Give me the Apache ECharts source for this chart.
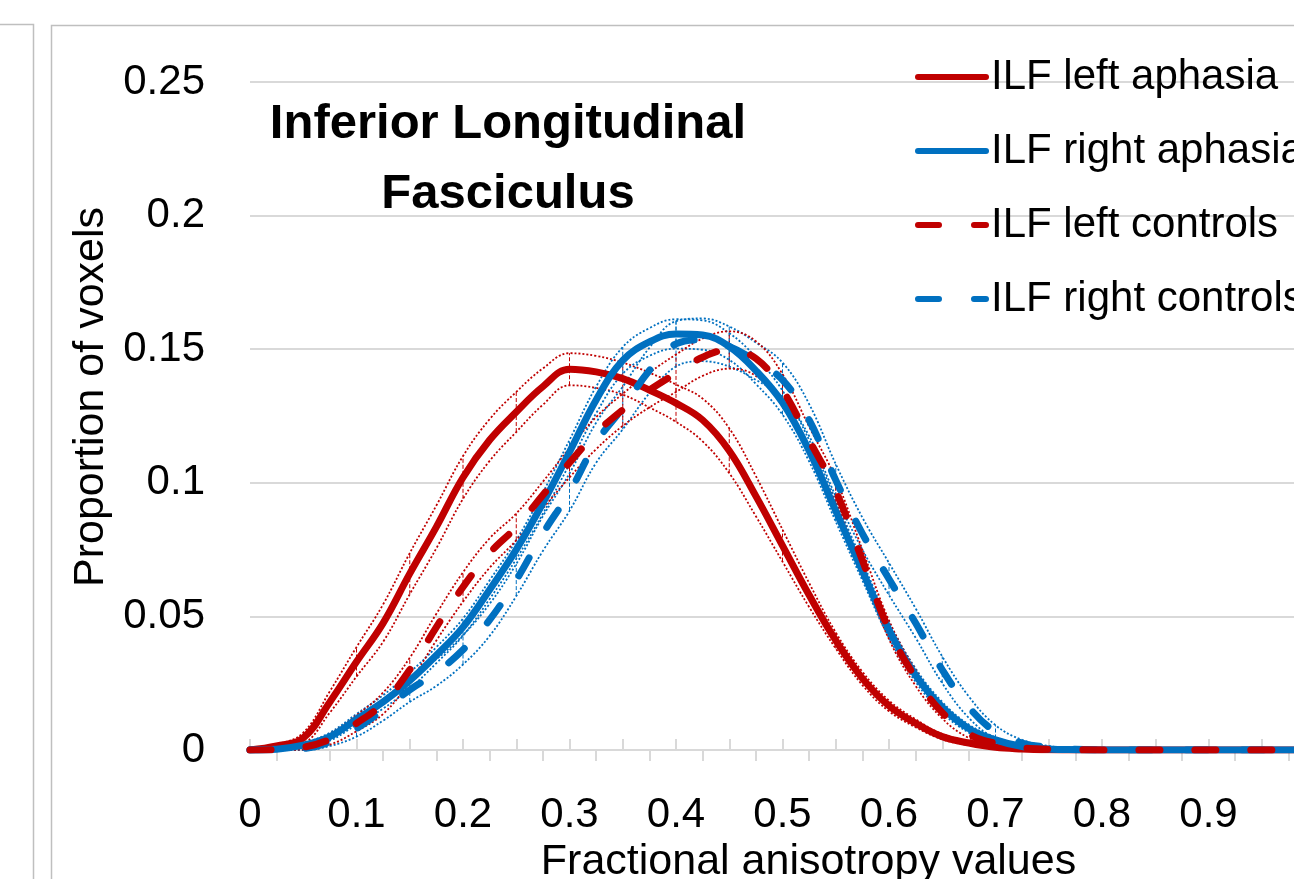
<!DOCTYPE html>
<html>
<head>
<meta charset="utf-8">
<script src="https://cdn.jsdelivr.net/npm/echarts@6/dist/echarts.min.js"></script>
<style>
html,body{margin:0;padding:0;background:#fff;}
#chart{width:1294px;height:879px;}
</style>
</head>
<body>
<div id="chart"></div>
<script>
// Fractional anisotropy values (x)
const faValues = [0,0.025,0.05,0.075,0.1,0.125,0.15,0.175,0.2,0.225,0.25,0.275,0.3,0.325,0.35,0.375,0.4,0.425,0.45,0.475,0.5,0.525,0.55,0.575,0.6,0.625,0.65,0.675,0.7,0.725,0.75,0.775,0.8,0.825,0.85,0.875,0.9,0.925,0.95,0.975,1.0];

// Means
const leftAphasia = [0,0.0015,0.0045,0.018,0.033,0.0475,0.066,0.0835,0.102,0.116,0.1265,0.136,0.1425,0.1415,0.139,0.1347,0.1298,0.1235,0.112,0.095,0.0765,0.058,0.041,0.0268,0.0165,0.010,0.005,0.0026,0.001,0.0004,0.0001,0,0,0,0,0,0,0,0,0,0];
const rightAphasia = [0,0.0003,0.0018,0.005,0.0115,0.018,0.026,0.0355,0.046,0.06,0.075,0.0924,0.1115,0.131,0.1458,0.1527,0.1557,0.1553,0.151,0.142,0.130,0.112,0.0895,0.067,0.045,0.028,0.016,0.008,0.0038,0.0013,0.0004,0.0001,0,0,0,0,0,0,0,0,0];
const leftControls = [0,0.0002,0.001,0.004,0.010,0.0175,0.030,0.046,0.061,0.0737,0.0835,0.0954,0.1075,0.1186,0.1273,0.1347,0.141,0.147,0.1497,0.1465,0.1347,0.116,0.097,0.071,0.045,0.027,0.014,0.006,0.0025,0.0008,0.0003,0.0001,0,0,0,0,0,0,0,0,0];
const rightControls = [0,0.0001,0.0005,0.003,0.008,0.015,0.0225,0.029,0.0375,0.0487,0.0636,0.081,0.0965,0.115,0.128,0.142,0.152,0.1535,0.151,0.1455,0.1385,0.1235,0.101,0.081,0.064,0.0475,0.030,0.016,0.0068,0.0026,0.001,0.0003,0.0001,0,0,0,0,0,0,0,0,0];

// Standard deviations
const leftAphasiaSd = [0,0.0005,0.002,0.004,0.0055,0.007,0.0077,0.008,0.008,0.0078,0.0075,0.0068,0.006,0.006,0.006,0.0065,0.007,0.008,0.0084,0.0075,0.006,0.0045,0.003,0.0025,0.002,0.0015,0.001,0.0008,0.0005,0.0003,0.0002,0,0,0,0,0,0,0,0,0,0];
const rightAphasiaSd = [0,0.0002,0.0008,0.0015,0.002,0.0025,0.003,0.003,0.0032,0.0035,0.0035,0.004,0.0045,0.005,0.005,0.0052,0.0055,0.0055,0.005,0.005,0.0045,0.004,0.004,0.0035,0.003,0.0025,0.002,0.0015,0.001,0.0005,0.0002,0.0001,0,0,0,0,0,0,0,0,0];
const leftControlsSd = [0,0.0002,0.0008,0.002,0.003,0.004,0.0045,0.005,0.0055,0.0055,0.005,0.005,0.0055,0.006,0.006,0.0065,0.007,0.007,0.007,0.0065,0.006,0.005,0.0045,0.004,0.0035,0.003,0.0022,0.0015,0.001,0.0005,0.0002,0.0001,0,0,0,0,0,0,0,0,0];
const rightControlsSd = [0,0.0001,0.0005,0.0015,0.003,0.004,0.0045,0.005,0.0055,0.006,0.006,0.0065,0.007,0.0075,0.008,0.0085,0.0085,0.008,0.0075,0.007,0.0065,0.006,0.006,0.006,0.006,0.0055,0.005,0.004,0.0025,0.0012,0.0005,0.0002,0.0001,0,0,0,0,0,0,0,0,0];

const xTickLabels = ['0','0.1','0.2','0.3','0.4','0.5','0.6','0.7','0.8','0.9'];
const yTickLabels = ['0','0.05','0.1','0.15','0.2','0.25'];
const seriesNames = ['ILF left aphasia','ILF right aphasia','ILF left controls','ILF right controls'];

const RED = '#c00000', BLUE = '#0070c0';
const FONT = '"Liberation Sans", Arial, sans-serif';

function pairs(ys){ return faValues.map((x,i)=>[x, ys[i]]); }
function band(ys, sd, sign){ return faValues.map((x,i)=>[x, Math.max(0, ys[i] + sign*sd[i])]); }
function bars(ys, sd){
  const out = [];
  faValues.forEach((x,i)=>{ if (i % 2 === 0 && sd[i] > 0.0008) out.push([x, ys[i]-sd[i], ys[i]+sd[i]]); });
  return out;
}

const groups = [
  {name: seriesNames[0], mean: leftAphasia, sd: leftAphasiaSd, color: RED, dashed: false, z: 5},
  {name: seriesNames[3], mean: rightControls, sd: rightControlsSd, color: BLUE, dashed: true, z: 6},
  {name: seriesNames[1], mean: rightAphasia, sd: rightAphasiaSd, color: BLUE, dashed: false, z: 7},
  {name: seriesNames[2], mean: leftControls, sd: leftControlsSd, color: RED, dashed: true, z: 8}
];

const series = [];
groups.forEach(g => {
  [1,-1].forEach(sign => {
    series.push({
      type: 'line', name: g.name + (sign>0?' +sd':' -sd'), data: band(g.mean, g.sd, sign),
      smooth: 0.4, showSymbol: false, silent: true, z: 2,
      lineStyle: {color: g.color, width: 1.8, type: [2,2]}
    });
  });
  series.push({
    type: 'custom', name: g.name + ' err', data: bars(g.mean, g.sd), silent: true, z: 2,
    renderItem: function(params, api){
      const p1 = api.coord([api.value(0), api.value(1)]);
      const p2 = api.coord([api.value(0), api.value(2)]);
      return {type:'line', shape:{x1:p1[0], y1:p1[1], x2:p2[0], y2:p2[1]},
        style:{stroke: g.color, lineWidth: 1, lineDash:[4,2]}};
    }
  });
});
groups.forEach(g => {
  series.push({
    type: 'line', name: g.name, data: pairs(g.mean), smooth: 0.4, showSymbol: false, symbol: 'none',
    z: g.z, color: g.color,
    lineStyle: {color: g.color, width: 7, cap: 'round', join: 'round', type: g.dashed ? [21,35] : 'solid'}
  });
});

const upTicks = [], downTicks = [];
for (let k = 0; k <= 20; k++) upTicks.push(+(k*0.05).toFixed(3));
for (let k = 0; k < 20; k++) downTicks.push(+(0.025 + k*0.05).toFixed(3));

const chart = echarts.init(document.getElementById('chart'), null, {renderer: 'canvas'});
chart.setOption({
  animation: false,
  backgroundColor: '#fff',
  textStyle: {fontFamily: FONT},
  title: {
    text: 'Inferior Longitudinal\nFasciculus',
    left: 503, top: 84, textAlign: 'center',
    textStyle: {fontFamily: FONT, fontSize: 49, fontWeight: 'bold', color: '#000', lineHeight: 70}
  },
  legend: {
    data: seriesNames, orient: 'vertical', left: 910, top: 47,
    itemWidth: 68, itemHeight: 4, itemGap: 24,
    lineStyle: {width: 6},
    itemStyle: {opacity: 0},
    textStyle: {fontFamily: FONT, fontSize: 42, color: '#000', lineHeight: 50},
    selectedMode: false
  },
  grid: {left: 250, right: -21, top: 82, bottom: 129, containLabel: false, outerBoundsMode: 'none'},
  xAxis: [{
    type: 'value', min: 0, max: 1, interval: 0.05,
    name: 'Fractional anisotropy values', nameLocation: 'middle', nameGap: 86,
    nameTextStyle: {fontFamily: FONT, fontSize: 43, color: '#000', padding: [0,0,0,52]},
    axisLine: {show: true, onZero: false, lineStyle: {color: '#d9d9d9', width: 2}},
    axisTick: {show: true, inside: true, length: 11, customValues: upTicks, lineStyle: {color: '#d9d9d9', width: 2}},
    axisLabel: {customValues: xTickLabels.map(Number), formatter: v => String(parseFloat(v.toFixed(2))),
      fontFamily: FONT, fontSize: 42, color: '#000', margin: 44},
    splitLine: {show: false}
  },{
    type: 'value', min: 0, max: 1, position: 'bottom',
    axisLine: {show: false, onZero: false},
    axisTick: {show: true, inside: false, length: 11, customValues: downTicks, lineStyle: {color: '#d9d9d9', width: 2}},
    axisLabel: {show: false},
    splitLine: {show: false}
  }],
  yAxis: {
    type: 'value', min: 0, max: 0.25, interval: 0.05,
    name: 'Proportion of voxels', nameLocation: 'middle', nameGap: 116,
    nameTextStyle: {fontFamily: FONT, fontSize: 43, color: '#000', padding: [0,0,0,38]},
    axisLine: {show: false}, axisTick: {show: false},
    axisLabel: {formatter: v => String(parseFloat(v.toFixed(2))), fontFamily: FONT, fontSize: 42, color: '#000', margin: 45},
    splitLine: {show: true, lineStyle: {color: '#d9d9d9', width: 2}}
  },
  graphic: [
    {type: 'polyline', shape: {points: [[0,24.5],[33.5,24.5],[33.5,879]]}, style: {stroke: '#bfbfbf', lineWidth: 1.5, fill: null}, silent: true},
    {type: 'polyline', shape: {points: [[51.5,879],[51.5,25.5],[1294,25.5]]}, style: {stroke: '#bfbfbf', lineWidth: 1.5, fill: null}, silent: true}
  ],
  series: series
});
</script>
</body>
</html>
